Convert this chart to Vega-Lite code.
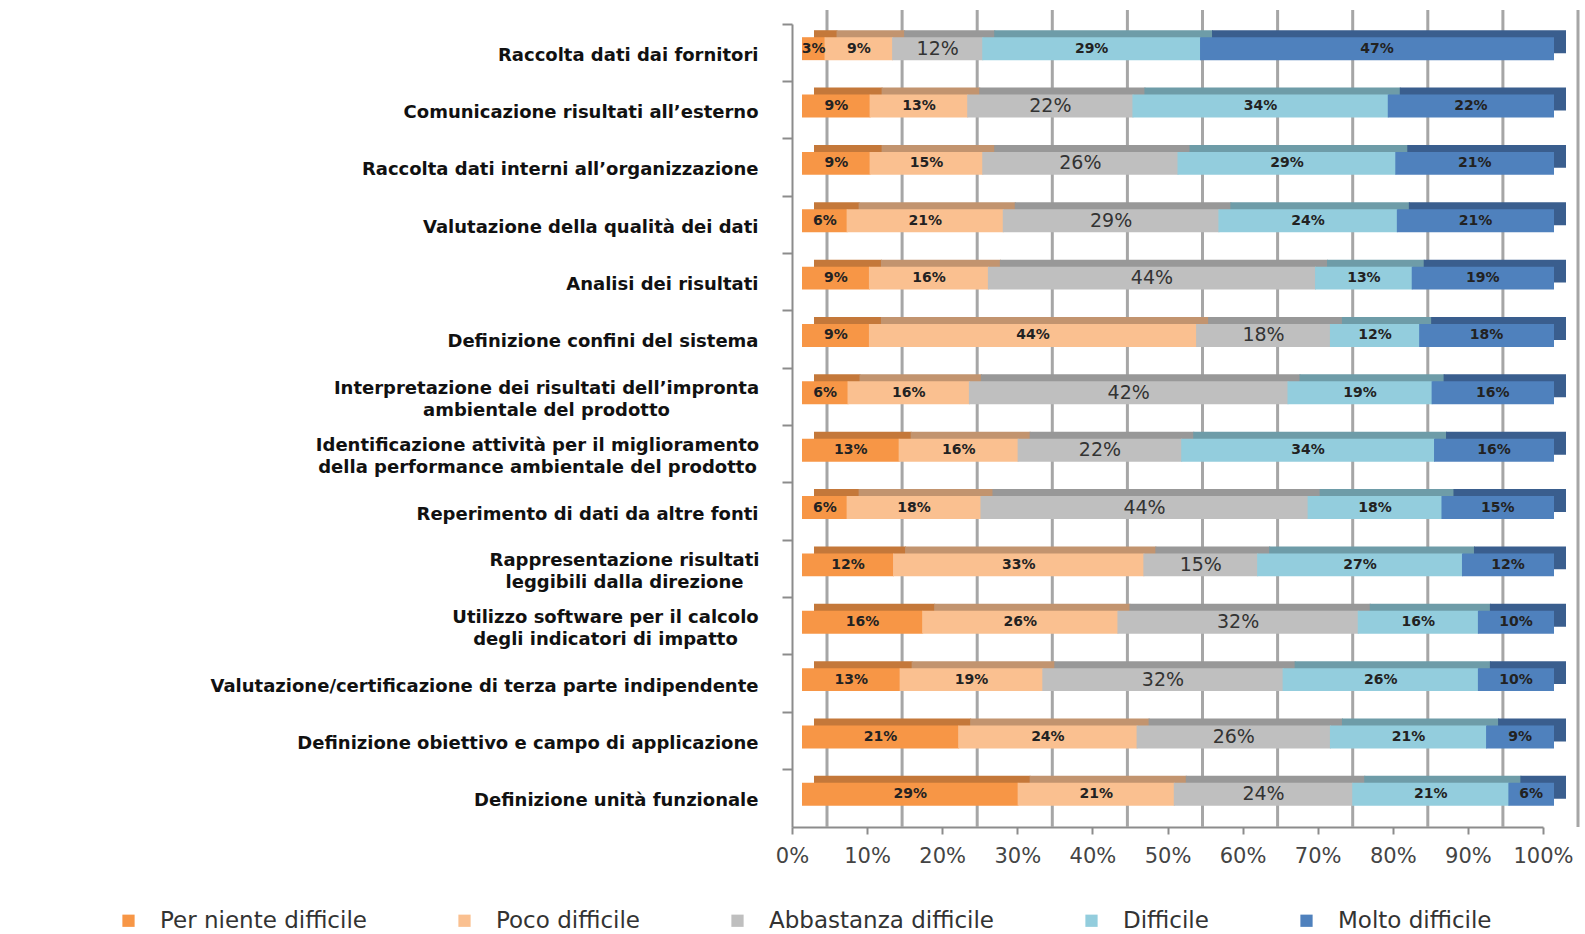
{
  "$schema": "https://vega.github.io/schema/vega-lite/v6.json",
  "width": 751,
  "height": 803,
  "autosize": {"type": "none"},
  "padding": {"left": 792, "top": 24, "right": 42, "bottom": 107},
  "background": "white",
  "config": {"view": {"stroke": null}, "font": "DejaVu Sans"},
  "data": {
    "values": [
      {"item": "Raccolta dati dai fornitori", "Per niente difficile": 3, "Poco difficile": 9, "Abbastanza difficile": 12, "Difficile": 29, "Molto difficile": 47},
      {"item": "Comunicazione risultati all’esterno", "Per niente difficile": 9, "Poco difficile": 13, "Abbastanza difficile": 22, "Difficile": 34, "Molto difficile": 22},
      {"item": "Raccolta dati interni all’organizzazione", "Per niente difficile": 9, "Poco difficile": 15, "Abbastanza difficile": 26, "Difficile": 29, "Molto difficile": 21},
      {"item": "Valutazione della qualità dei dati", "Per niente difficile": 6, "Poco difficile": 21, "Abbastanza difficile": 29, "Difficile": 24, "Molto difficile": 21},
      {"item": "Analisi dei risultati", "Per niente difficile": 9, "Poco difficile": 16, "Abbastanza difficile": 44, "Difficile": 13, "Molto difficile": 19},
      {"item": "Definizione confini del sistema", "Per niente difficile": 9, "Poco difficile": 44, "Abbastanza difficile": 18, "Difficile": 12, "Molto difficile": 18},
      {"item": "Interpretazione dei risultati dell’impronta\nambientale del prodotto", "Per niente difficile": 6, "Poco difficile": 16, "Abbastanza difficile": 42, "Difficile": 19, "Molto difficile": 16},
      {"item": "Identificazione attività per il miglioramento\ndella performance ambientale del prodotto", "Per niente difficile": 13, "Poco difficile": 16, "Abbastanza difficile": 22, "Difficile": 34, "Molto difficile": 16},
      {"item": "Reperimento di dati da altre fonti", "Per niente difficile": 6, "Poco difficile": 18, "Abbastanza difficile": 44, "Difficile": 18, "Molto difficile": 15},
      {"item": "Rappresentazione risultati\nleggibili dalla direzione", "Per niente difficile": 12, "Poco difficile": 33, "Abbastanza difficile": 15, "Difficile": 27, "Molto difficile": 12},
      {"item": "Utilizzo software per il calcolo\ndegli indicatori di impatto", "Per niente difficile": 16, "Poco difficile": 26, "Abbastanza difficile": 32, "Difficile": 16, "Molto difficile": 10},
      {"item": "Valutazione/certificazione di terza parte indipendente", "Per niente difficile": 13, "Poco difficile": 19, "Abbastanza difficile": 32, "Difficile": 26, "Molto difficile": 10},
      {"item": "Definizione obiettivo e campo di applicazione", "Per niente difficile": 21, "Poco difficile": 24, "Abbastanza difficile": 26, "Difficile": 21, "Molto difficile": 9},
      {"item": "Definizione unità funzionale", "Per niente difficile": 29, "Poco difficile": 21, "Abbastanza difficile": 24, "Difficile": 21, "Molto difficile": 6}
    ]
  },
  "transform": [
    {"fold": ["Per niente difficile", "Poco difficile", "Abbastanza difficile", "Difficile", "Molto difficile"], "as": ["livello", "pct"]},
    {"window": [{"op": "row_number", "as": "ord"}], "groupby": ["item"]},
    {"stack": "pct", "groupby": ["item"], "sort": [{"field": "ord", "order": "ascending"}], "offset": "normalize", "as": ["x0", "x1"]},
    {"calculate": "(datum.x0 + datum.x1) / 2", "as": "mid"},
    {"calculate": "datum.pct + '%'", "as": "lbl"}
  ],
  "layer": [
    {
      "data": {"values": [{"g": 0}, {"g": 0.1}, {"g": 0.2}, {"g": 0.3}, {"g": 0.4}, {"g": 0.5}, {"g": 0.6}, {"g": 0.7}, {"g": 0.8}, {"g": 0.9}, {"g": 1}]},
      "mark": {"type": "rule", "color": "#a6a6a6", "strokeWidth": 3, "xOffset": 35, "yOffset": -14, "y2Offset": -12},
      "encoding": {
        "x": {"field": "g", "type": "quantitative", "title": null, "scale": {"domain": [0, 1]}}
      }
    },
    {
      "mark": {"type": "bar", "height": {"band": 0.4}, "xOffset": 22, "x2Offset": 23, "yOffset": -11},
      "encoding": {
        "y": {"field": "item", "type": "nominal", "sort": null, "title": null},
        "x": {"field": "x0", "type": "quantitative", "title": null},
        "x2": {"field": "x1"},
        "color": {
          "field": "livello",
          "type": "nominal",
          "legend": null,
          "scale": {
            "domain": ["Per niente difficile", "Poco difficile", "Abbastanza difficile", "Difficile", "Molto difficile"],
            "range": ["#c4783a", "#c2946f", "#989898", "#6e9ca8", "#3a5e8e"]
          }
        }
      }
    },
    {
      "mark": {"type": "bar", "height": {"band": 0.4}, "xOffset": 10, "x2Offset": 11, "yOffset": -4},
      "encoding": {
        "y": {
          "field": "item",
          "type": "nominal",
          "sort": null,
          "title": null,
          "scale": {"paddingInner": 0, "paddingOuter": 0},
          "axis": {
            "bandPosition": 0,
            "labelExpr": "split(datum.label, '\\n')",
            "labelFont": "DejaVu Sans",
            "labelFontWeight": "bold",
            "labelFontSize": 18,
            "labelLineHeight": 22,
            "labelColor": "#111111",
            "labelLimit": 0,
            "labelAlign": {"condition": {"test": "indexof(datum.value, '\\n') >= 0", "value": "center"}, "value": "right"},
            "labelOffset": {"condition": {"test": "indexof(datum.value, '\\n') >= 0", "value": -8}, "value": 3},
            "labelPadding": {
              "condition": [
                {"test": "indexof(datum.value, 'Interpretazione') === 0", "value": 236},
                {"test": "indexof(datum.value, 'Identificazione') === 0", "value": 245},
                {"test": "indexof(datum.value, 'Rappresentazione') === 0", "value": 158},
                {"test": "indexof(datum.value, 'Utilizzo') === 0", "value": 177}
              ],
              "value": 24
            },
            "tickSize": 10,
            "tickWidth": 2,
            "tickColor": "#8c8c8c",
            "domainColor": "#8c8c8c",
            "domainWidth": 2,
            "grid": false
          }
        },
        "x": {
          "field": "x0",
          "type": "quantitative",
          "title": null,
          "scale": {"domain": [0, 1]},
          "axis": {
            "values": [0, 0.1, 0.2, 0.3, 0.4, 0.5, 0.6, 0.7, 0.8, 0.9, 1],
            "format": ".0%",
            "labelFont": "DejaVu Sans",
            "labelFontSize": 21,
            "labelColor": "#444444",
            "labelPadding": 11,
            "labelOverlap": false,
            "labelFlush": false,
            "tickSize": 7,
            "tickWidth": 2,
            "tickColor": "#8c8c8c",
            "domainColor": "#8c8c8c",
            "domainWidth": 2,
            "grid": false
          }
        },
        "x2": {"field": "x1"},
        "color": {
          "field": "livello",
          "type": "nominal",
          "scale": {
            "domain": ["Per niente difficile", "Poco difficile", "Abbastanza difficile", "Difficile", "Molto difficile"],
            "range": ["#f79646", "#fac090", "#bfbfbf", "#93cddd", "#4f81bd"]
          },
          "legend": {
            "title": null,
            "orient": "none",
            "legendX": -675,
            "legendY": 885,
            "direction": "horizontal",
            "columns": 5,
            "symbolType": "square",
            "symbolSize": 150,
            "symbolStrokeWidth": 0,
            "labelFont": "DejaVu Sans",
            "labelFontSize": 23,
            "labelColor": "#333333",
            "labelOffset": 20,
            "labelLimit": 0,
            "columnPadding": 86
          }
        }
      }
    },
    {
      "transform": [{"filter": "datum.livello !== 'Abbastanza difficile'"}],
      "mark": {"type": "text", "xOffset": 10.5, "yOffset": -4, "fontSize": 14, "fontWeight": "bold", "color": "#222222", "baseline": "middle"},
      "encoding": {
        "y": {"field": "item", "type": "nominal", "sort": null, "title": null},
        "x": {"field": "mid", "type": "quantitative", "title": null},
        "text": {"field": "lbl"}
      }
    },
    {
      "transform": [{"filter": "datum.livello === 'Abbastanza difficile'"}],
      "mark": {"type": "text", "xOffset": 10.5, "yOffset": -4, "fontSize": 19, "color": "#333333", "baseline": "middle"},
      "encoding": {
        "y": {"field": "item", "type": "nominal", "sort": null, "title": null},
        "x": {"field": "mid", "type": "quantitative", "title": null},
        "text": {"field": "lbl"}
      }
    }
  ],
  "resolve": {"scale": {"color": "independent"}}
}
